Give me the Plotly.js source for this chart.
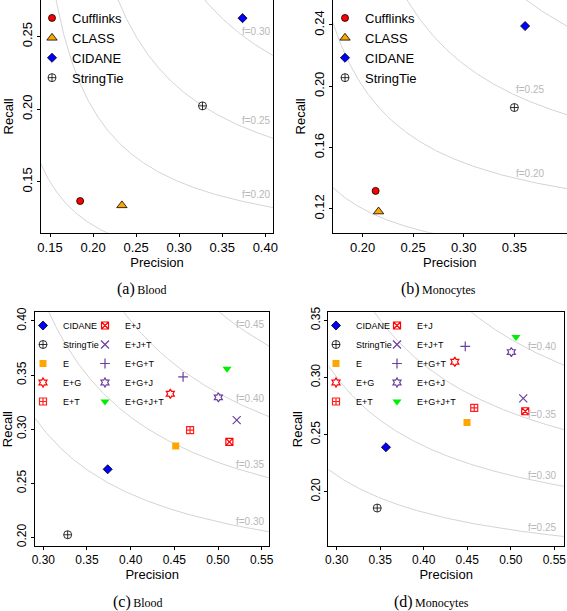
<!DOCTYPE html>
<html>
<head>
<meta charset="utf-8">
<script src="https://cdn.plot.ly/plotly-3.0.1.min.js"></script>
<style>html,body{margin:0;padding:0;background:#fff;}#chart{width:567px;height:611px;}</style>
</head>
<body>
<div id="chart"></div>
<script>
// ---------------- data ----------------
const methodsTop = ['Cufflinks', 'CLASS', 'CIDANE', 'StringTie'];
const bloodTopPrecision = [0.185, 0.2335, 0.3736, 0.3271];
const bloodTopRecall    = [0.1368, 0.1338, 0.2627, 0.2023];
const monoTopPrecision  = [0.2129, 0.2158, 0.3606, 0.3500];
const monoTopRecall     = [0.1317, 0.1182, 0.2393, 0.1861];

const methodsBottom = ['CIDANE', 'StringTie', 'E', 'E+G', 'E+T', 'E+J', 'E+J+T', 'E+G+T', 'E+G+J', 'E+G+J+T'];
const bloodBottomPrecision = [0.3737, 0.3279, 0.4516, 0.4454, 0.4680, 0.5130, 0.5214, 0.4600, 0.5004, 0.5103];
const bloodBottomRecall    = [0.2629, 0.2024, 0.2845, 0.3327, 0.2991, 0.2883, 0.3083, 0.3484, 0.3294, 0.3558];
const monoBottomPrecision  = [0.3566, 0.3466, 0.4497, 0.4357, 0.4580, 0.5166, 0.5143, 0.4477, 0.5006, 0.5059];
const monoBottomRecall     = [0.2389, 0.1857, 0.2605, 0.3137, 0.2733, 0.2704, 0.2817, 0.3271, 0.3222, 0.3353];

// iso-F-measure guide curves and their labels
const fCurvesA = [0.15, 0.20, 0.25, 0.30];
const fCurvesB = [0.15, 0.20, 0.25, 0.30];
const fCurvesC = [0.30, 0.35, 0.40, 0.45];
const fCurvesD = [0.25, 0.30, 0.35, 0.40];
const fLabelsA = [0.20, 0.25, 0.30];   const fLabelYA = [0.1415, 0.1922, 0.2534];
const fLabelsB = [0.20, 0.25];         const fLabelYB = [0.1433, 0.1979];
const fLabelsC = [0.30, 0.35, 0.40, 0.45]; const fLabelYC = [0.2151, 0.2669, 0.3285, 0.3963];
const fLabelsD = [0.25, 0.30, 0.35, 0.40]; const fLabelYD = [0.1689, 0.2146, 0.2675, 0.3271];

const captions = [['(a)', 'Blood'], ['(b)', 'Monocytes'], ['(c)', 'Blood'], ['(d)', 'Monocytes']];

// ---------------- styles ----------------
const W = 567, H = 611;
const FONT = 'Liberation Sans, Arial, Helvetica, sans-serif';
const SERIF = 'Liberation Serif, Times New Roman, serif';
const PURPLE = '#6b3fa0';
const styles = {
  'Cufflinks': {symbol: 'circle', size: 7, color: '#ff0000', line: {color: '#000', width: 0.8}},
  'CLASS':     {symbol: 'triangle-up', size: 9, color: '#ffa500', line: {color: '#000', width: 0.8}},
  'CIDANE':    {symbol: 'diamond', size: 7, color: '#0000ff', line: {color: '#000', width: 0.8}},
  'StringTie': {symbol: 'circle-cross-open', size: 8, color: '#000', line: {color: '#000', width: 0.8}},
  'E':         {symbol: 'square', size: 7, color: '#ffa500', line: {color: '#ffa500', width: 0}},
  'E+G':       {symbol: 'hexagram-open', size: 7, color: '#ff0000', line: {color: '#ff0000', width: 1.2}},
  'E+T':       {symbol: 'square-cross-open', size: 7, color: '#ff2020', line: {color: '#ff2020', width: 1.2}},
  'E+J':       {symbol: 'square-x-open', size: 7, color: '#ff0000', line: {color: '#ff0000', width: 1.2}},
  'E+J+T':     {symbol: 'x-thin-open', size: 8, color: PURPLE, line: {color: PURPLE, width: 1.2}},
  'E+G+T':     {symbol: 'cross-thin-open', size: 7, color: PURPLE, line: {color: PURPLE, width: 1.2}},
  'E+G+J':     {symbol: 'hexagram-open', size: 7, color: PURPLE, line: {color: PURPLE, width: 1.2}},
  'E+G+J+T':   {symbol: 'triangle-down', size: 8, color: '#00ee00', line: {color: '#00ee00', width: 0}}
};

// panel geometry (pixels)
const panels = [
  {xa: 'x',  ya: 'y',  xpx: [40.7, 273.3], ypx: [0, 232.7],   xr: [0.1392, 0.4093], yr: [0.115, 0.2752],
   xt: [0.15, 0.20, 0.25, 0.30, 0.35, 0.40], yt: [0.15, 0.20, 0.25], tfs: 13},
  {xa: 'x2', ya: 'y2', xpx: [332.7, 567], ypx: [0, 232.7],    xr: [0.1705, 0.402], yr: [0.1044, 0.2563],
   xt: [0.20, 0.25, 0.30, 0.35], yt: [0.12, 0.16, 0.20, 0.24], tfs: 13},
  {xa: 'x3', ya: 'y3', xpx: [35, 269.3], ypx: [312.3, 546],   xr: [0.2905, 0.5587], yr: [0.192, 0.408],
   xt: [0.30, 0.35, 0.40, 0.45, 0.50, 0.55], yt: [0.20, 0.25, 0.30, 0.35, 0.40], tfs: 12},
  {xa: 'x4', ya: 'y4', xpx: [328.3, 564], ypx: [312.3, 546],  xr: [0.2904, 0.5611], yr: [0.1525, 0.357],
   xt: [0.30, 0.35, 0.40, 0.45, 0.50, 0.55], yt: [0.20, 0.25, 0.30, 0.35], tfs: 12}
];
const fCurves = [fCurvesA, fCurvesB, fCurvesC, fCurvesD];
const fLabels = [[fLabelsA, fLabelYA], [fLabelsB, fLabelYB], [fLabelsC, fLabelYC], [fLabelsD, fLabelYD]];
const labelRightPx = [273, 547, 267, 559];
const captionPos = [[142, 289], [438, 289], [138, 602], [431, 602]];

// ---------------- traces ----------------
const traces = [];
panels.forEach((p, i) => {
  fCurves[i].forEach(f => {
    const xs = [], ys = [];
    const n = 600;
    for (let k = 0; k <= n; k++) {
      const P = p.xr[0] + (p.xr[1] - p.xr[0]) * k / n;
      if (2 * P - f <= 0) continue;
      xs.push(P); ys.push(f * P / (2 * P - f));
    }
    traces.push({x: xs, y: ys, xaxis: p.xa, yaxis: p.ya, mode: 'lines', showlegend: false,
      hoverinfo: 'skip', line: {color: '#d4d4d4', width: 1}});
  });
});

function addPoints(methods, prec, rec, pi, legendFor) {
  const p = panels[pi];
  methods.forEach((m, k) => {
    const s = styles[m];
    traces.push({x: [prec[k]], y: [rec[k]], xaxis: p.xa, yaxis: p.ya, mode: 'markers', name: m,
      legend: legendFor(k),
      marker: {symbol: s.symbol, size: s.size, color: s.color, line: s.line}});
  });
}
addPoints(methodsTop, bloodTopPrecision, bloodTopRecall, 0, () => 'legend');
addPoints(methodsTop, monoTopPrecision, monoTopRecall, 1, () => 'legend2');
addPoints(methodsBottom, bloodBottomPrecision, bloodBottomRecall, 2, k => k < 5 ? 'legend3' : 'legend4');
addPoints(methodsBottom, monoBottomPrecision, monoBottomRecall, 3, k => k < 5 ? 'legend5' : 'legend6');

// ---------------- layout ----------------
const layout = {
  width: W, height: H, margin: {l: 0, r: 0, t: 0, b: 0},
  paper_bgcolor: '#fff', plot_bgcolor: '#fff', showlegend: true,
  font: {family: FONT, color: '#000'},
  annotations: []
};
panels.forEach((p, i) => {
  const sx = i === 0 ? '' : String(i + 1);
  const top = i < 2;
  layout['xaxis' + sx] = {
    domain: [p.xpx[0] / W, Math.min(1, p.xpx[1] / W)], range: p.xr, anchor: 'y' + sx,
    tickvals: p.xt, ticktext: p.xt.map(v => v.toFixed(2)), ticks: 'outside', ticklen: 3, tickcolor: '#000',
    showgrid: false, zeroline: false, showline: true, linecolor: '#000', linewidth: 1, mirror: !top,
    tickfont: {size: p.tfs, family: FONT, color: '#000'},
    title: {text: 'Precision', font: {size: 13, family: FONT, color: '#000'}, standoff: 0}
  };
  layout['yaxis' + sx] = {
    domain: [1 - p.ypx[1] / H, 1 - p.ypx[0] / H], range: p.yr, anchor: 'x' + sx,
    tickvals: p.yt, ticktext: p.yt.map(v => v.toFixed(2)), ticks: 'outside', ticklen: 3, tickcolor: '#000',
    tickangle: -90,
    showgrid: false, zeroline: false, showline: true, linecolor: '#000', linewidth: 1, mirror: true,
    tickfont: {size: p.tfs, family: FONT, color: '#000'},
    title: {text: 'Recall', font: {size: 13, family: FONT, color: '#000'}, standoff: 2}
  };
  // f labels
  const [fl, fy] = fLabels[i];
  fl.forEach((f, k) => {
    layout.annotations.push({xref: 'paper', yref: 'y' + sx, x: labelRightPx[i] / W, y: fy[k],
      xanchor: 'right', yanchor: 'middle', showarrow: false, text: 'f=' + f.toFixed(2),
      font: {size: 10, family: FONT, color: '#b8b8b8'}});
  });
  // captions
  layout.annotations.push({xref: 'paper', yref: 'paper', x: captionPos[i][0] / W, y: 1 - captionPos[i][1] / H,
    xanchor: 'center', yanchor: 'middle', showarrow: false,
    text: '<span style="font-size:16px">' + captions[i][0] + '</span>\u2009' + captions[i][1],
    font: {size: 12, family: SERIF, color: '#000'}});
});

function leg(xpx, ypx, size) {
  return {x: xpx / W, y: 1 - ypx / H, xanchor: 'left', yanchor: 'top', bgcolor: 'rgba(0,0,0,0)',
    borderwidth: 0, font: {size: size, family: FONT, color: '#000'}, tracegroupgap: 0, itemwidth: 30};
}
layout.legend  = leg(32, 3, 13);
layout.legend2 = leg(325, 3, 13);
layout.legend3 = leg(23, 311, 9);
layout.legend4 = leg(85, 311, 9);
layout.legend5 = leg(316, 311, 9);
layout.legend6 = leg(377, 311, 9);

Plotly.newPlot('chart', traces, layout, {displayModeBar: false, staticPlot: true});
</script>
</body>
</html>
